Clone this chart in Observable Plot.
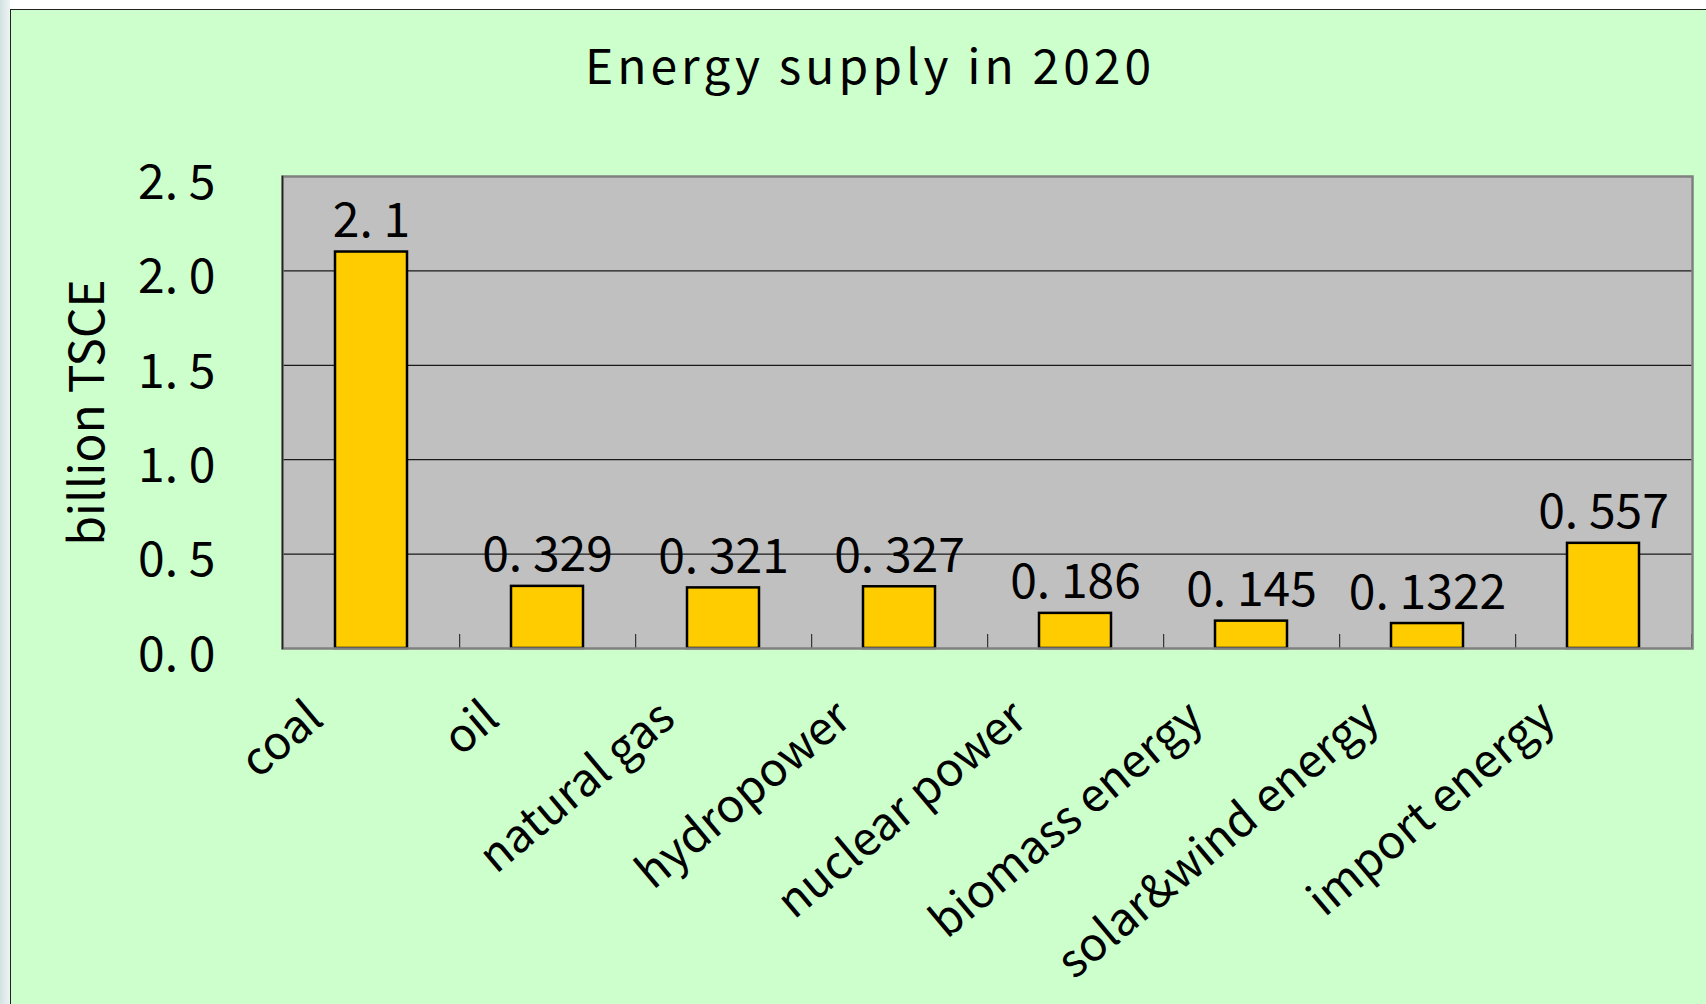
<!DOCTYPE html>
<html>
<head>
<meta charset="utf-8">
<script src="https://cdn.jsdelivr.net/npm/d3@7"></script>
<script src="https://cdn.jsdelivr.net/npm/@observablehq/plot@0.6"></script>
<style>
  html, body { margin: 0; padding: 0; }
  body { width: 1706px; height: 1004px; overflow: hidden; position: relative;
         background: linear-gradient(to right, #d3e2e2 0px, #eef4f4 10px, #ffffff 10px); font-family: "Noto Sans CJK SC", "Noto Sans", sans-serif; }
  #frame { position: absolute; left: 10px; top: 9px; width: 1700px; height: 1000px;
           background: #CCFFCC; border-left: 1.5px solid #222; border-top: 1.5px solid #222; }
  #wrap { position: absolute; left: 0; top: 0; width: 1706px; }
  #title { box-sizing: border-box; width: 1706px; height: 130px; padding-left: 34px; padding-top: 35px;
           text-align: center; font-size: 48px; line-height: 56px; color: #000; letter-spacing: 4px; }
  #chart svg { display: block; }
</style>
</head>
<body>
<div id="frame"></div>
<div id="wrap">
  <div id="title"></div>
  <div id="chart"></div>
</div>
<script>
const title = "Energy supply in 2020";
const yLabel = "billion TSCE";
const categories = ["coal", "oil", "natural gas", "hydropower", "nuclear power", "biomass energy", "solar&wind energy", "import energy"];
const values = [2.1, 0.329, 0.321, 0.327, 0.186, 0.145, 0.1322, 0.557];
const yTicks = [0, 0.5, 1.0, 1.5, 2.0, 2.5];
const gridTicks = [0.5, 1.0, 1.5, 2.0];

const data = categories.map((c, i) => ({category: c, value: values[i]}));
const fmtValue = v => String(v).replace(".", ". ");
const fmtTick = v => v.toFixed(1).replace(".", ". ");

document.getElementById("title").textContent = title;

const step = (1706 - 282 - 14) / categories.length;

const chart = Plot.plot({
  width: 1706,
  height: 874,
  marginTop: 46,
  marginBottom: 356,
  marginLeft: 282,
  marginRight: 14,
  style: {background: "transparent", fontFamily: "'Noto Sans CJK SC', 'Noto Sans', sans-serif", fontSize: "48px", color: "#000", overflow: "visible"},
  x: {domain: categories, paddingInner: 0.59, paddingOuter: 0.295, axis: null},
  y: {domain: [0, 2.5], axis: null},
  marks: [
    Plot.frame({fill: "#C0C0C0"}),
    Plot.ruleY(gridTicks, {stroke: "#1a1a1a", strokeWidth: 1.2}),
    Plot.ruleX(categories, {x: d => d, dx: step / 2, y1: 0, y2: 0, insetTop: -14, stroke: "#333", strokeWidth: 1.2}),
    Plot.barY(data, {x: "category", y: "value", fill: "#FFCC00", stroke: "#000", strokeWidth: 2.5}),
    Plot.text(data, {x: "category", y: "value", text: d => fmtValue(d.value), dy: -15, lineAnchor: "bottom", fontSize: 48, fill: "#000"}),
    Plot.frame({stroke: "#808080", strokeWidth: 2.5}),
    Plot.frame({anchor: "left", stroke: "#222", strokeWidth: 1.5}),
    Plot.axisY({ticks: yTicks, tickSize: 0, tickPadding: 67, tickFormat: fmtTick, fontSize: 48, dy: 7, label: null}),
    Plot.text([yLabel], {frameAnchor: "left", dx: -213, rotate: -90, textAnchor: "middle", lineAnchor: "top", fontSize: 48, fill: "#000"}),
    Plot.text(categories, {x: d => d, frameAnchor: "bottom", dx: -67, dy: 49, rotate: -40, textAnchor: "end", lineAnchor: "top", fontSize: 46, fill: "#000"})
  ]
});
document.getElementById("chart").appendChild(chart);
</script>
</body>
</html>
